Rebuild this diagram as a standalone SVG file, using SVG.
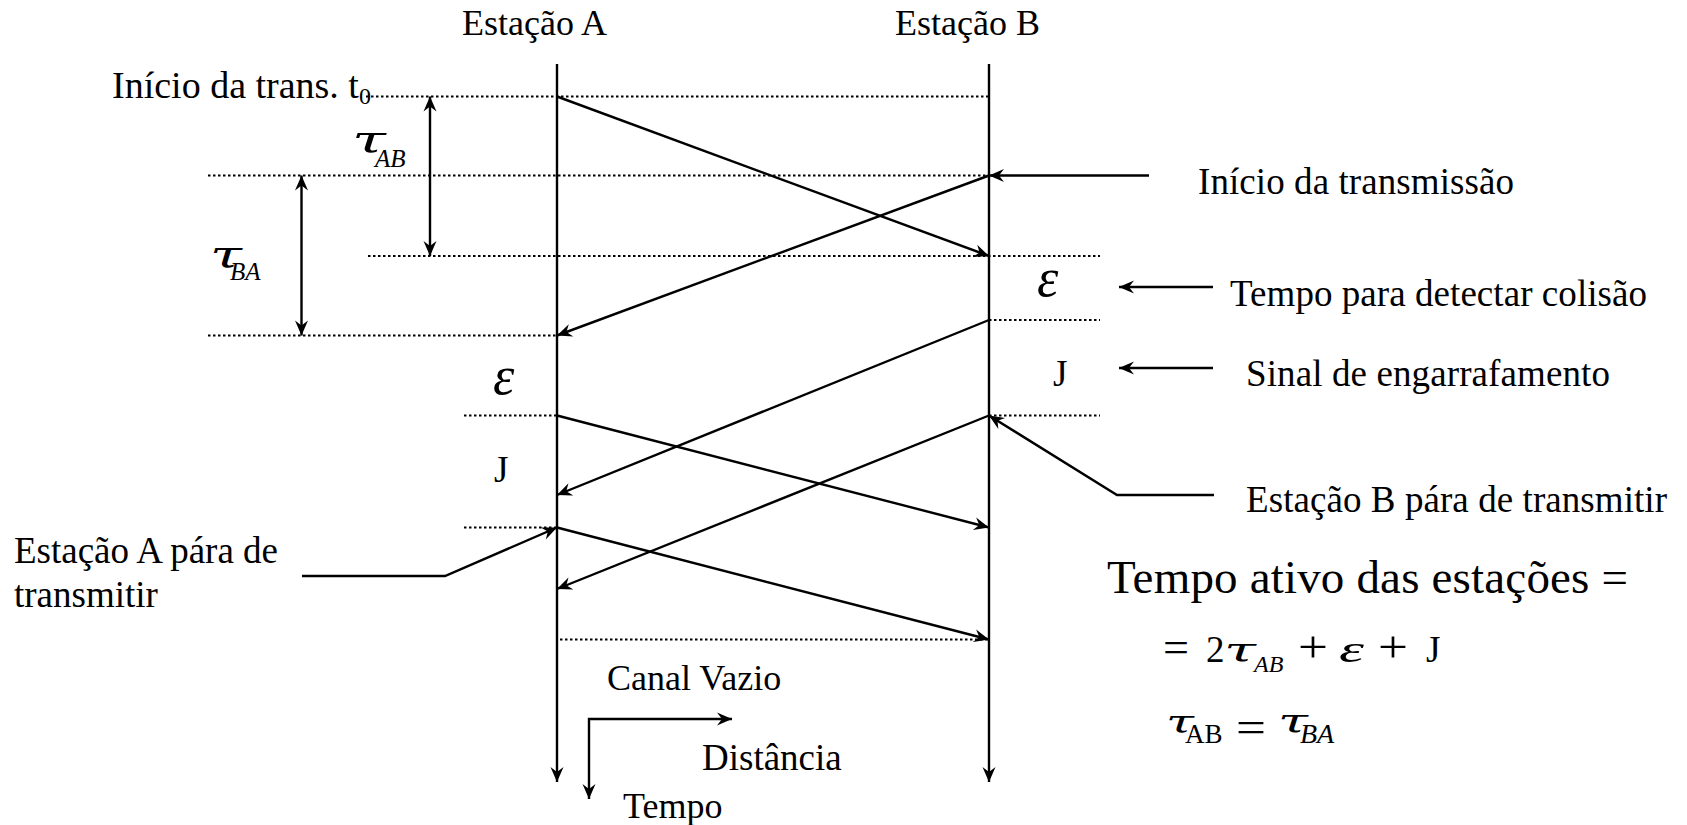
<svg xmlns="http://www.w3.org/2000/svg" width="1687" height="825" viewBox="0 0 1687 825">
<style>
  text { font-family: "Liberation Serif", "Times New Roman", serif; fill: #000; }
  .lbl { font-size: 37px; }
  .ttl { font-size: 36px; }
  .it { font-style: italic; }
  .tau { font-family: "DejaVu Serif", "Liberation Serif", serif; font-style: italic; }
  .arr { stroke: #000; stroke-width: 2.4; fill: none; marker-end: url(#ah); }
  .dbl { stroke: #000; stroke-width: 2.4; fill: none; marker-end: url(#ah); marker-start: url(#ahs); }
  .dot { stroke: #000; stroke-width: 2; fill: none; stroke-dasharray: 2.5 2.5; }
</style>
<defs>
  <marker id="ah" markerUnits="userSpaceOnUse" viewBox="-17 -8 18 16" refX="0" refY="0" markerWidth="18" markerHeight="16" orient="auto">
    <path d="M0,0 L-15,-6.5 L-10,0 L-15,6.5 Z" fill="#000"/>
  </marker>
  <marker id="ahs" markerUnits="userSpaceOnUse" viewBox="-17 -8 18 16" refX="0" refY="0" markerWidth="18" markerHeight="16" orient="auto-start-reverse">
    <path d="M0,0 L-15,-6.5 L-10,0 L-15,6.5 Z" fill="#000"/>
  </marker>
</defs>
<rect width="1687" height="825" fill="#fff"/>

<g id="guides">
  <line class="dot" x1="366" y1="96.5" x2="989" y2="96.5"/>
  <line class="dot" x1="208" y1="175.5" x2="989" y2="175.5"/>
  <line class="dot" x1="368" y1="256" x2="1100" y2="256"/>
  <line class="dot" x1="208" y1="335.5" x2="557" y2="335.5"/>
  <line class="dot" x1="989" y1="320" x2="1100" y2="320"/>
  <line class="dot" x1="464" y1="415.5" x2="557" y2="415.5"/>
  <line class="dot" x1="989" y1="415.5" x2="1100" y2="415.5"/>
  <line class="dot" x1="464" y1="527.5" x2="557" y2="527.5"/>
  <line class="dot" x1="560" y1="639.5" x2="989" y2="639.5"/>
</g>

<g id="station-a">
  <text class="ttl" x="462" y="35">Estação A</text>
  <line class="arr" x1="557" y1="64" x2="557" y2="782"/>
</g>
<g id="station-b">
  <text class="ttl" x="895" y="35">Estação B</text>
  <line class="arr" x1="989" y1="64" x2="989" y2="782"/>
</g>

<g id="connectors">
  <line class="arr" x1="557" y1="96.5" x2="989" y2="256"/>
  <line class="arr" x1="989" y1="175.5" x2="557" y2="335.5"/>
  <line class="arr" x1="989" y1="320" x2="557" y2="495"/>
  <line class="arr" x1="557" y1="415.5" x2="989" y2="527.5"/>
  <line class="arr" x1="989" y1="415.5" x2="557" y2="589"/>
  <line class="arr" x1="557" y1="527.5" x2="989" y2="639.5"/>
  <line class="dbl" x1="430" y1="256" x2="430" y2="96.5"/>
  <line class="dbl" x1="301.5" y1="335.5" x2="301.5" y2="175.5"/>
  <line class="arr" x1="1149" y1="175.5" x2="989" y2="175.5"/>
  <line class="arr" x1="1213" y1="287" x2="1119" y2="287"/>
  <line class="arr" x1="1213" y1="368" x2="1119" y2="368"/>
  <polyline class="arr" points="1214,495 1117,495 989,415.5"/>
  <polyline class="arr" points="302,576 445,576 557,527.5"/>
  <polyline class="dbl" points="589,799 589,719 732,719"/>
</g>

<g id="label-t0">
  <text x="112" y="98" style="font-size:38px">Início da trans. t<tspan style="font-size:24px" dy="6">0</tspan></text>
</g>
<g id="label-tau-ab">
  <text class="tau" x="352" y="152" style="font-size:38px" textLength="34" lengthAdjust="spacingAndGlyphs">τ</text>
  <text class="it" x="375" y="167" style="font-size:25px">AB</text>
</g>
<g id="label-tau-ba">
  <text class="tau" x="210" y="267" style="font-size:38px" textLength="32" lengthAdjust="spacingAndGlyphs">τ</text>
  <text class="it" x="230" y="279.5" style="font-size:25px">BA</text>
</g>
<g id="label-eps-a">
  <text class="it" x="493" y="394" style="font-size:54px">ε</text>
</g>
<g id="label-j-a">
  <text class="lbl" x="494" y="482">J</text>
</g>
<g id="label-eps-b">
  <text class="it" x="1037" y="296" style="font-size:54px">ε</text>
</g>
<g id="label-j-b">
  <text class="lbl" x="1053" y="386">J</text>
</g>
<g id="label-inicio">
  <text class="lbl" x="1198" y="194" textLength="316">Início da transmissão</text>
</g>
<g id="label-tempo-detectar">
  <text class="lbl" x="1230" y="306" textLength="417">Tempo para detectar colisão</text>
</g>
<g id="label-sinal">
  <text class="lbl" x="1246" y="386" textLength="364">Sinal de engarrafamento</text>
</g>
<g id="label-b-para">
  <text class="lbl" x="1246" y="512" textLength="421">Estação B pára de transmitir</text>
</g>
<g id="label-a-para">
  <text class="lbl" x="14" y="563">Estação A pára de</text>
  <text class="lbl" x="14" y="607">transmitir</text>
</g>
<g id="label-canal">
  <text class="ttl" x="607" y="690">Canal Vazio</text>
</g>
<g id="label-distancia">
  <text class="lbl" x="702" y="770">Distância</text>
</g>
<g id="label-tempo">
  <text class="ttl" x="623" y="818">Tempo</text>
</g>
<g id="formula">
  <text x="1107" y="593" style="font-size:47px" textLength="521">Tempo ativo das estações =</text>
  <text x="1163" y="662" style="font-size:44px" textLength="26" lengthAdjust="spacingAndGlyphs">=</text>
  <text x="1206" y="662" style="font-size:37px">2</text>
  <text class="tau" x="1224" y="662" style="font-size:34px" textLength="32" lengthAdjust="spacingAndGlyphs">τ</text>
  <text class="it" x="1254" y="672" style="font-size:24px">AB</text>
  <text x="1298" y="662" style="font-size:44px" textLength="30" lengthAdjust="spacingAndGlyphs">+</text>
  <text class="it" x="1339" y="662" style="font-size:38px" textLength="25" lengthAdjust="spacingAndGlyphs">ε</text>
  <text x="1378" y="662" style="font-size:44px" textLength="30" lengthAdjust="spacingAndGlyphs">+</text>
  <text x="1426" y="662" style="font-size:37px">J</text>
  <text class="tau" x="1166" y="733" style="font-size:32px" textLength="28" lengthAdjust="spacingAndGlyphs">τ</text>
  <text x="1185" y="743" style="font-size:27px">AB</text>
  <text x="1236" y="742" style="font-size:44px" textLength="30" lengthAdjust="spacingAndGlyphs">=</text>
  <text class="tau" x="1278" y="733" style="font-size:34px" textLength="30" lengthAdjust="spacingAndGlyphs">τ</text>
  <text class="it" x="1300" y="743" style="font-size:28px">BA</text>
</g>
</svg>
